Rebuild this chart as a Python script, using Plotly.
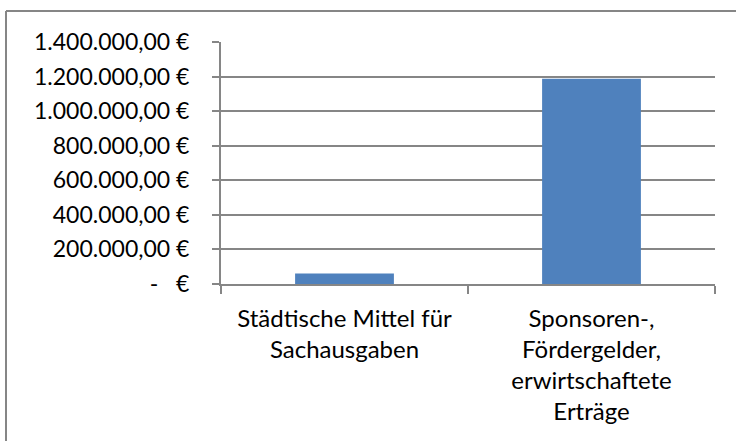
import plotly.graph_objects as go

categories = ["Städtische Mittel für<br>Sachausgaben",
              "Sponsoren-,<br>Fördergelder,<br>erwirtschaftete<br>Erträge"]
values = [61000, 1188000]
tick_vals = [0, 200000, 400000, 600000, 800000, 1000000, 1200000, 1400000]
tick_text = ["-   €", "200.000,00 €", "400.000,00 €", "600.000,00 €",
             "800.000,00 €", "1.000.000,00 €", "1.200.000,00 €", "1.400.000,00 €"]

W, H = 736, 441
L, R, T, B = 221, 21, 42, 157
pw, ph = W - L - R, H - T - B

fig = go.Figure(go.Bar(x=[0, 1], y=values, width=0.4,
                       marker=dict(color="#4F81BD", line=dict(width=0))))

font = dict(family="Lato, 'Open Sans', sans-serif", size=23, color="#000000")

fig.update_layout(
    width=W, height=H, margin=dict(l=L, r=R, t=T, b=B, pad=0, autoexpand=False),
    paper_bgcolor="white", plot_bgcolor="white", showlegend=False,
    font=font, bargap=0.6,
    shapes=[
        dict(type="line", xref="paper", yref="paper",
             x0=(6 - L) / pw, x1=(W + 5 - L) / pw,
             y0=(H - B - 11) / ph, y1=(H - B - 11) / ph,
             line=dict(color="#868686", width=2)),
        dict(type="line", xref="paper", yref="paper",
             x0=(6 - L) / pw, x1=(6 - L) / pw,
             y0=(H - B - 11) / ph, y1=-(B + 5) / ph,
             line=dict(color="#868686", width=2)),
    ],
)
fig.update_xaxes(range=[-0.5, 1.5], tickvals=[0, 1], ticktext=categories,
                 showgrid=False, showline=True, linecolor="#868686", linewidth=2,
                 ticks="", tickfont=dict(family=font["family"], size=24, color="#000000"),
                 zeroline=False, automargin=False, ticklabelstandoff=12)
fig.update_xaxes(minor=dict(tickvals=[-0.5, 0.5, 1.5], ticks="outside",
                            ticklen=8, tickcolor="#868686", tickwidth=2))
fig.update_yaxes(range=[0, 1400000], tickvals=tick_vals, ticktext=tick_text,
                 showgrid=True, gridcolor="#868686", gridwidth=2,
                 showline=True, linecolor="#868686", linewidth=2,
                 ticks="outside", ticklen=7, tickcolor="#868686", tickwidth=2,
                 tickfont=font, zeroline=False, automargin=False,
                 ticklabelstandoff=18)

fig.write_html("out.html", config={"displayModeBar": False},
               post_script="document.body.style.margin='0';document.body.style.overflow='hidden';")
